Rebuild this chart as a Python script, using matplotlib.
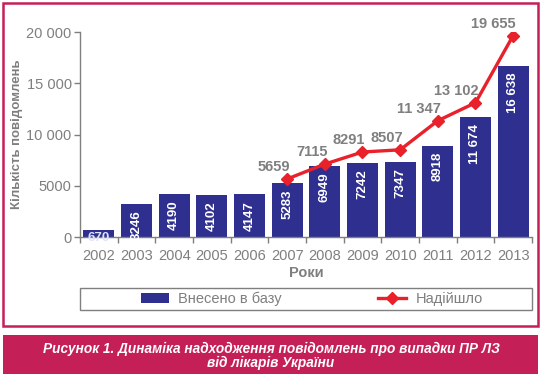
import matplotlib
matplotlib.use("Agg")
import matplotlib.pyplot as plt
from matplotlib.patches import Rectangle
from matplotlib.lines import Line2D
import numpy as np

years = ["2002", "2003", "2004", "2005", "2006", "2007", "2008", "2009", "2010", "2011", "2012", "2013"]
entered = [670, 3246, 4190, 4102, 4147, 5283, 6949, 7242, 7347, 8918, 11674, 16638]
entered_labels = ["670", "3246", "4190", "4102", "4147", "5283", "6949", "7242", "7347", "8918", "11 674", "16 638"]
received_years = ["2007", "2008", "2009", "2010", "2011", "2012", "2013"]
received = [5659, 7115, 8291, 8507, 11347, 13102, 19655]
received_labels = ["5659", "7115", "8291", "8507", "11 347", "13 102", "19 655"]
yticks = [0, 5000, 10000, 15000, 20000]
ytick_labels = ["0", "5000", "10 000", "15 000", "20 000"]

BLUE = "#2E2F8F"
RED = "#E8212B"
GRAY = "#7F7F7F"
CRIMSON = "#C51F58"

plt.rcParams['font.family'] = ['Liberation Sans', 'DejaVu Sans']

W, H = 542, 377
fig = plt.figure(figsize=(W / 100, H / 100), dpi=100)

def fx(px):
    return px / W

def fy(py):
    return 1 - py / H

# outer border
fig.patches.append(Rectangle((fx(3), fy(326)), fx(535), 323 / H, transform=fig.transFigure,
                             fill=False, edgecolor=CRIMSON, lw=1.8, zorder=0))
# caption band
fig.patches.append(Rectangle((fx(3), fy(374)), fx(535), 39 / H, transform=fig.transFigure,
                             facecolor=CRIMSON, edgecolor='none', zorder=0))
fig.text(0.5, fy(349), "Рисунок 1. Динаміка надходження повідомлень про випадки ПР ЛЗ",
         ha='center', va='center', color='white', fontsize=9.8, fontweight='bold', style='italic')
fig.text(0.5, fy(363), "від лікарів України",
         ha='center', va='center', color='white', fontsize=9.8, fontweight='bold', style='italic')

ax = fig.add_axes([fx(80), fy(237), fx(532 - 80), (237 - 32) / H])
x = np.arange(len(years))
bars = ax.bar(x, entered, width=0.82, color=BLUE, zorder=2)

for i, (v, lab) in enumerate(zip(entered, entered_labels)):
    if v < 2000:
        ax.annotate(lab, (x[i], v), xytext=(0, -1), textcoords='offset points',
                    ha='center', va='top', color='#DDE3FF', fontsize=9.5, fontweight='bold', zorder=4)
    else:
        ax.annotate(lab, (x[i], v), xytext=(0, -4.5), textcoords='offset points',
                    ha='center', va='top', rotation=90, color='white', fontsize=9.5,
                    fontweight='bold', zorder=4)

rx = [years.index(y) for y in received_years]
ax.plot(rx, received, color=RED, lw=2.4, marker='D', markersize=6.5, zorder=3)
for xi, v, lab in zip(rx, received, received_labels):
    ax.annotate(lab, (xi, v), xytext=(2, 5.5), textcoords='offset points',
                ha='right', va='baseline', color=GRAY, fontsize=10.5, fontweight='bold', zorder=4)

ax.set_xlim(-0.5, len(years) - 0.5)
ax.set_ylim(0, 20000)
ax.set_yticks(yticks)
ax.set_yticklabels(ytick_labels)
ax.set_xticks(x)
ax.set_xticklabels(years)
ax.set_xticks(np.arange(len(years) + 1) - 0.5, minor=True)
ax.tick_params(axis='x', which='major', length=0, pad=9, labelsize=10.5, labelcolor=GRAY)
ax.tick_params(axis='x', which='minor', length=4.5, color=GRAY, width=1)
ax.tick_params(axis='y', length=4, color=GRAY, width=1, pad=2, labelsize=10.5, labelcolor=GRAY)
for s in ['top', 'right']:
    ax.spines[s].set_visible(False)
for s in ['left', 'bottom']:
    ax.spines[s].set_color(GRAY)
    ax.spines[s].set_linewidth(1)
ax.set_ylabel("Кількість повідомлень", color=GRAY, fontsize=9.5, fontweight='bold', va='center')
ax.yaxis.set_label_coords((17 - 80) / 452, 0.5)
ax.set_xlabel("Роки", color=GRAY, fontsize=10.5, fontweight='bold', labelpad=2)

# legend frame
fig.patches.append(Rectangle((fx(80), fy(310)), fx(452), 22 / H, transform=fig.transFigure,
                             facecolor='white', edgecolor=GRAY, lw=1, zorder=1))
handles = [Rectangle((0, 0), 1, 1, facecolor=BLUE, edgecolor='none'),
           Line2D([], [], color=RED, lw=2.4, marker='D', markersize=6.5)]
leg = fig.legend(handles, ["Внесено в базу", "Надійшло"], loc='center',
                 bbox_to_anchor=(fx(312), fy(299)), ncol=2, frameon=False,
                 fontsize=10.5, handlelength=1.9, handletextpad=0.65, columnspacing=6.6,
                 handleheight=0.6, labelcolor=GRAY)

fig.savefig("out.png", dpi=100)
